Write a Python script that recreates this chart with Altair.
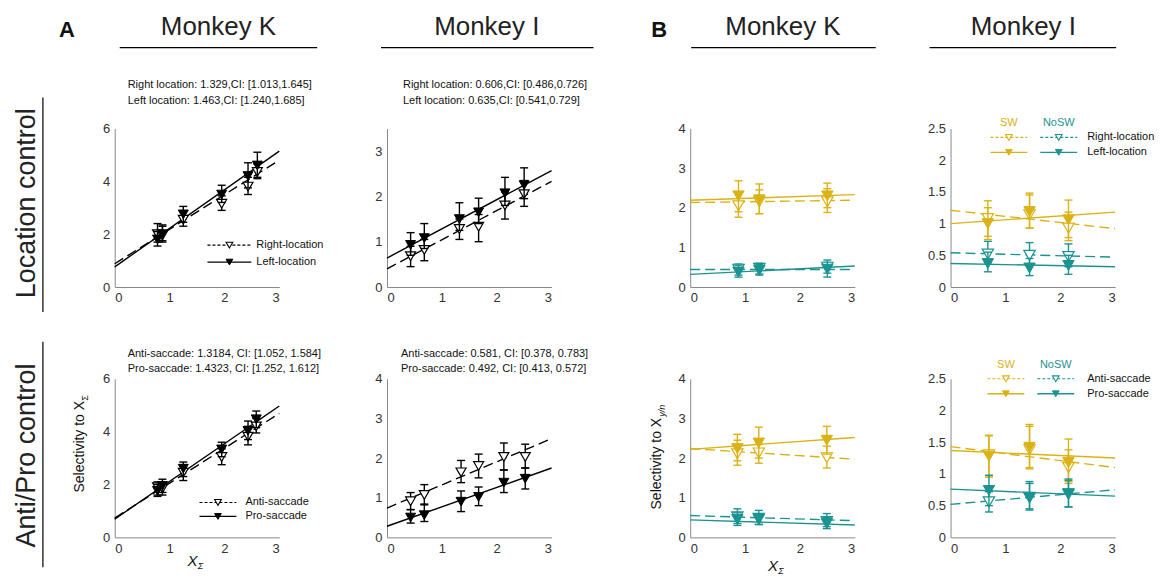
import altair as alt
import pandas as pd

FONT = "Liberation Sans"
BLK = "#000000"
YEL = "#DBB216"
TEAL = "#1B9391"

# ---------------- data ----------------
# A, Location control, Monkey K
akl_x = [0.78, 0.87, 1.25, 1.95, 2.43, 2.60]
akl_left = [1.80, 2.00, 2.75, 3.50, 4.20, 4.60]
akl_left_lo = [1.55, 1.75, 2.45, 3.20, 3.75, 4.15]
akl_left_hi = [2.10, 2.30, 3.05, 3.85, 4.70, 5.10]
akl_right = [2.00, 1.95, 2.55, 3.15, 3.80, 4.35]
akl_right_lo = [1.70, 1.70, 2.30, 2.90, 3.50, 4.10]
akl_right_hi = [2.40, 2.35, 2.85, 3.45, 4.15, 4.65]
akl_fit_left = [0.76, 5.14]
akl_fit_right = [0.88, 4.80]

# A, Location control, Monkey I
ail_x = [0.43, 0.68, 1.32, 1.67, 2.15, 2.50]
ail_left = [0.93, 1.08, 1.50, 1.65, 2.07, 2.25]
ail_left_lo = [0.70, 0.85, 1.25, 1.40, 1.80, 1.95]
ail_left_hi = [1.20, 1.40, 1.86, 1.96, 2.42, 2.63]
ail_right = [0.68, 0.82, 1.28, 1.33, 1.80, 2.05]
ail_right_lo = [0.45, 0.58, 1.05, 1.00, 1.50, 1.78]
ail_right_hi = [0.90, 1.05, 1.50, 1.60, 2.10, 2.35]
ail_fit_left = [0.64, 2.57]
ail_fit_right = [0.40, 2.33]

# A, Anti/Pro control, Monkey K
aka_x = [0.78, 0.87, 1.25, 1.95, 2.43, 2.58]
aka_pro = [1.76, 1.95, 2.60, 3.33, 4.03, 4.47]
aka_pro_lo = [1.55, 1.70, 2.30, 3.05, 3.70, 4.15]
aka_pro_hi = [2.00, 2.20, 2.85, 3.60, 4.40, 4.78]
aka_anti = [1.90, 1.85, 2.45, 3.04, 3.81, 4.20]
aka_anti_lo = [1.60, 1.60, 2.15, 2.75, 3.50, 3.95]
aka_anti_hi = [2.10, 2.10, 2.75, 3.35, 4.20, 4.50]
aka_fit_pro = [0.69, 4.97]
aka_fit_anti = [0.73, 4.69]

# A, Anti/Pro control, Monkey I
aia_x = [0.43, 0.68, 1.35, 1.67, 2.13, 2.52]
aia_anti = [0.91, 1.07, 1.64, 1.80, 2.03, 2.03]
aia_anti_lo = [0.70, 0.82, 1.38, 1.50, 1.70, 1.75]
aia_anti_hi = [1.13, 1.33, 1.94, 2.10, 2.38, 2.35]
aia_pro = [0.50, 0.56, 0.90, 1.02, 1.38, 1.48]
aia_pro_lo = [0.36, 0.40, 0.65, 0.80, 1.13, 1.22]
aia_pro_hi = [0.70, 0.84, 1.17, 1.27, 1.70, 1.75]
aia_fit_anti = [0.74, 2.49]
aia_fit_pro = [0.28, 1.75]

# B, Location control, Monkey K
bkl_x = [0.88, 1.26, 2.50]
bkl_sw_left = [2.30, 2.20, 2.30]
bkl_sw_left_lo = [1.90, 1.85, 2.00]
bkl_sw_left_hi = [2.68, 2.60, 2.62]
bkl_sw_right = [2.05, 2.15, 2.15]
bkl_sw_right_lo = [1.76, 1.85, 1.88]
bkl_sw_right_hi = [2.40, 2.45, 2.48]
bkl_no_left = [0.38, 0.42, 0.45]
bkl_no_left_lo = [0.25, 0.30, 0.25]
bkl_no_left_hi = [0.55, 0.57, 0.68]
bkl_no_right = [0.45, 0.47, 0.50]
bkl_no_right_lo = [0.30, 0.33, 0.35]
bkl_no_right_hi = [0.58, 0.60, 0.62]
bkl_fit_sw_left = [2.19, 2.33]
bkl_fit_sw_right = [2.13, 2.19]
bkl_fit_no_left = [0.32, 0.53]
bkl_fit_no_right = [0.44, 0.44]

# B, Location control, Monkey I
bil_x = [0.68, 1.44, 2.15]
bil_sw_left = [1.00, 1.19, 1.06]
bil_sw_left_lo = [0.75, 0.93, 0.78]
bil_sw_left_hi = [1.36, 1.48, 1.37]
bil_sw_right = [1.08, 1.14, 0.93]
bil_sw_right_lo = [0.80, 0.93, 0.73]
bil_sw_right_hi = [1.25, 1.45, 1.18]
bil_no_left = [0.37, 0.30, 0.34]
bil_no_left_lo = [0.24, 0.18, 0.20]
bil_no_left_hi = [0.55, 0.45, 0.50]
bil_no_right = [0.52, 0.50, 0.48]
bil_no_right_lo = [0.38, 0.35, 0.32]
bil_no_right_hi = [0.72, 0.70, 0.68]
bil_fit_sw_left = [1.00, 1.18]
bil_fit_sw_right = [1.21, 0.92]
bil_fit_no_left = [0.37, 0.32]
bil_fit_no_right = [0.54, 0.47]

# B, Anti/Pro control, Monkey K
bka_x = [0.86, 1.25, 2.49]
bka_sw_pro = [2.24, 2.38, 2.45]
bka_sw_pro_lo = [1.93, 2.00, 2.10]
bka_sw_pro_hi = [2.60, 2.78, 2.80]
bka_sw_anti = [2.11, 2.13, 2.01]
bka_sw_anti_lo = [1.82, 1.87, 1.75]
bka_sw_anti_hi = [2.45, 2.35, 2.30]
bka_no_pro = [0.45, 0.45, 0.35]
bka_no_pro_lo = [0.30, 0.32, 0.22]
bka_no_pro_hi = [0.62, 0.58, 0.50]
bka_no_anti = [0.52, 0.48, 0.40]
bka_no_anti_lo = [0.35, 0.33, 0.27]
bka_no_anti_hi = [0.72, 0.68, 0.60]
bka_fit_sw_pro = [2.22, 2.52]
bka_fit_sw_anti = [2.24, 1.97]
bka_fit_no_pro = [0.44, 0.31]
bka_fit_no_anti = [0.55, 0.42]

# B, Anti/Pro control, Monkey I
bia_x = [0.70, 1.44, 2.15]
bia_sw_pro = [1.28, 1.42, 1.18]
bia_sw_pro_lo = [0.95, 1.08, 0.85]
bia_sw_pro_hi = [1.61, 1.78, 1.55]
bia_sw_anti = [1.30, 1.38, 1.10]
bia_sw_anti_lo = [0.97, 1.10, 0.88]
bia_sw_anti_hi = [1.60, 1.75, 1.38]
bia_no_pro = [0.74, 0.62, 0.69]
bia_no_pro_lo = [0.50, 0.45, 0.48]
bia_no_pro_hi = [0.98, 0.85, 0.90]
bia_no_anti = [0.56, 0.63, 0.68]
bia_no_anti_lo = [0.40, 0.43, 0.48]
bia_no_anti_hi = [0.72, 0.88, 0.92]
bia_fit_sw_pro = [1.37, 1.25]
bia_fit_sw_anti = [1.43, 1.10]
bia_fit_no_pro = [0.76, 0.65]
bia_fit_no_anti = [0.52, 0.75]

fit_x = [0, 3]
x_ticks = [0, 1, 2, 3]

# ---------------- layout ----------------
PW, PH = 165, 159
COL_X = [115, 388, 692, 953]      # page x of each plot's left edge
ROW_Y = [8, 287]                  # page y of each panel's origin
COL_W = [273, 304, 261, 165]
ROW_H = [279, 251]
ROW_TOP = [120, 92]               # plot top inside the panel

DUMMY = pd.DataFrame({"d": [0]})


def T(s, ix, iy, o, size=11, color="#111111", align="left", angle=0,
      italic=False, bold=False, baseline="middle"):
    kw = dict(text=s, fontSize=size, color=color, align=align,
              baseline=baseline, font=FONT)
    if angle:
        kw["angle"] = angle
    if italic:
        kw["fontStyle"] = "italic"
    if bold:
        kw["fontWeight"] = "bold"
    return alt.Chart(DUMMY).mark_text(**kw).encode(
        x=alt.value(ix - o[0]), y=alt.value(iy - o[1]))


def R(x1, y1, x2, y2, o, color=BLK, w=1.0, dash=None, opacity=1.0):
    kw = dict(color=color, strokeWidth=w, opacity=opacity)
    if dash:
        kw["strokeDash"] = dash
    return alt.Chart(DUMMY).mark_rule(**kw).encode(
        x=alt.value(x1 - o[0]), x2=alt.value(x2 - o[0]),
        y=alt.value(y1 - o[1]), y2=alt.value(y2 - o[1]))


def P(ix, iy, o, color, filled, size=45):
    if filled:
        m = alt.Chart(DUMMY).mark_point(shape="triangle-down", size=size, filled=True,
                                        fill=color, stroke=color, strokeWidth=1, opacity=1)
    else:
        m = alt.Chart(DUMMY).mark_point(shape="triangle-down", size=size, filled=True,
                                        fill="white", stroke=color, strokeWidth=1.1, opacity=1)
    return m.encode(x=alt.value(ix - o[0]), y=alt.value(iy - o[1]))


def panel(r, c, xs, series, fits, ydom, yticks, extras, msize=100):
    o = (COL_X[c], ROW_Y[r])
    top = ROW_TOP[r]
    xsc = alt.Scale(domain=[0, 3], range=[0, PW], nice=False, zero=False)
    ysc = alt.Scale(domain=ydom, range=[top + PH, top], nice=False, zero=False)
    xax = alt.Axis(values=x_ticks, title=None, labelExpr="'' + datum.value")
    yax = alt.Axis(values=yticks, title=None, labelExpr="'' + datum.value")

    layers = []
    for (ys, color, dashed) in fits:
        df = pd.DataFrame({"x": fit_x, "y": ys})
        kw = dict(color=color, strokeWidth=1.4)
        if dashed:
            kw["strokeDash"] = [10, 5]
        layers.append(alt.Chart(df).mark_line(**kw).encode(
            x=alt.X("x:Q", scale=xsc, axis=xax),
            y=alt.Y("y:Q", scale=ysc, axis=yax)))
    for (ys, lo, hi, color, filled) in series:
        df = pd.DataFrame({"x": xs, "y": ys, "lo": lo, "hi": hi})
        X = alt.X("x:Q", scale=xsc, axis=xax)
        layers.append(alt.Chart(df).mark_rule(color=color, strokeWidth=1.4).encode(
            x=X, y=alt.Y("lo:Q", scale=ysc, axis=yax), y2="hi:Q"))
        for f in ("lo", "hi"):
            layers.append(alt.Chart(df).mark_point(
                shape="M-1,0L1,0", size=64, filled=False, stroke=color,
                strokeWidth=1.4, opacity=1).encode(
                x=X, y=alt.Y(f + ":Q", scale=ysc, axis=yax)))
        if filled:
            mk = alt.Chart(df).mark_point(shape="triangle-down", size=msize, filled=True,
                                          fill=color, stroke=color, strokeWidth=1, opacity=1)
        else:
            mk = alt.Chart(df).mark_point(shape="triangle-down", size=msize, filled=True,
                                          fill="white", stroke=color, strokeWidth=1.2, opacity=1)
        layers.append(mk.encode(x=X, y=alt.Y("y:Q", scale=ysc, axis=yax)))
    layers += [e(o) for e in extras]
    return alt.layer(*layers).properties(width=COL_W[c], height=ROW_H[r])


# ---------------- annotations ----------------
def global_annotations(o):
    out = [
        R(8, 30, 8, 31, o, opacity=0),  # left anchor
        T("A", 67, 29, o, size=22, bold=True, align="center", color="#111111"),
        T("Monkey K", 219, 26, o, size=26, align="center", color="#222222"),
        R(120, 47, 318, 47, o, w=1.2),
        T("Monkey I", 488, 26, o, size=26, align="center", color="#222222"),
        R(382, 47, 595, 47, o, w=1.2),
        T("B", 661, 29, o, size=22, bold=True, align="center", color="#111111"),
        T("Monkey K", 785, 26, o, size=26, align="center", color="#222222"),
        R(693, 47, 878, 47, o, w=1.2),
        T("Monkey I", 1026, 26, o, size=26, align="center", color="#222222"),
        R(932, 47, 1119, 47, o, w=1.2),
        T("Location control", 27, 203, o, size=27, align="center", angle=270, color="#222222"),
        R(43, 97, 43, 312, o, w=1.2),
        T("Anti/Pro control", 27, 456, o, size=27, align="center", angle=270, color="#222222"),
        R(43, 342, 43, 568, o, w=1.2),
    ]
    return out


def black_legend(o, x1, x2, xt, y1, y2, lab1, lab2):
    xm = (x1 + x2) / 2
    return [
        R(x1, y1, x2, y1, o, w=1.1, dash=[3, 2]), P(xm, y1, o, BLK, False),
        T(lab1, xt, y1, o, size=11),
        R(x1, y2, x2, y2, o, w=1.3), P(xm, y2, o, BLK, True),
        T(lab2, xt, y2, o, size=11),
    ]


def color_legend(o, ytitle, y1, y2, lab1, lab2, xs_sw, xs_no, xt):
    (a1, a2), (b1, b2) = xs_sw, xs_no
    return [
        T("SW", (a1 + a2) / 2, ytitle, o, size=11, align="center", color=YEL),
        T("NoSW", (b1 + b2) / 2, ytitle, o, size=11, align="center", color=TEAL),
        R(a1, y1, a2, y1, o, color=YEL, w=1.1, dash=[3, 2]), P((a1 + a2) / 2, y1, o, YEL, False),
        R(b1, y1, b2, y1, o, color=TEAL, w=1.1, dash=[3, 2]), P((b1 + b2) / 2, y1, o, TEAL, False),
        T(lab1, xt, y1, o, size=11),
        R(a1, y2, a2, y2, o, color=YEL, w=1.4), P((a1 + a2) / 2, y2, o, YEL, True),
        R(b1, y2, b2, y2, o, color=TEAL, w=1.4), P((b1 + b2) / 2, y2, o, TEAL, True),
        T(lab2, xt, y2, o, size=11),
    ]


# panel (0,0)
p00 = panel(0, 0, akl_x,
            [(akl_right, akl_right_lo, akl_right_hi, BLK, False),
             (akl_left, akl_left_lo, akl_left_hi, BLK, True)],
            [(akl_fit_right, BLK, True), (akl_fit_left, BLK, False)],
            [0, 6], [0, 2, 4, 6],
            [lambda o: alt.layer(*global_annotations(o)),
             lambda o: T("Right location: 1.329,CI: [1.013,1.645]", 128, 84, o),
             lambda o: T("Left location: 1.463,CI: [1.240,1.685]", 128, 101, o),
             lambda o: alt.layer(*black_legend(o, 208, 252, 257, 245, 262,
                                               "Right-location", "Left-location"))])

p01 = panel(0, 1, ail_x,
            [(ail_right, ail_right_lo, ail_right_hi, BLK, False),
             (ail_left, ail_left_lo, ail_left_hi, BLK, True)],
            [(ail_fit_right, BLK, True), (ail_fit_left, BLK, False)],
            [0, 3.5], [0, 1, 2, 3],
            [lambda o: T("Right location: 0.606,CI: [0.486,0.726]", 404, 84, o),
             lambda o: T("Left location: 0.635,CI: [0.541,0.729]", 404, 101, o)])

p02 = panel(0, 2, bkl_x,
            [(bkl_sw_right, bkl_sw_right_lo, bkl_sw_right_hi, YEL, False),
             (bkl_sw_left, bkl_sw_left_lo, bkl_sw_left_hi, YEL, True),
             (bkl_no_right, bkl_no_right_lo, bkl_no_right_hi, TEAL, False),
             (bkl_no_left, bkl_no_left_lo, bkl_no_left_hi, TEAL, True)],
            [(bkl_fit_sw_right, YEL, True), (bkl_fit_sw_left, YEL, False),
             (bkl_fit_no_right, TEAL, True), (bkl_fit_no_left, TEAL, False)],
            [0, 4], [0, 1, 2, 3, 4], [], msize=130)

p03 = panel(0, 3, bil_x,
            [(bil_sw_right, bil_sw_right_lo, bil_sw_right_hi, YEL, False),
             (bil_sw_left, bil_sw_left_lo, bil_sw_left_hi, YEL, True),
             (bil_no_right, bil_no_right_lo, bil_no_right_hi, TEAL, False),
             (bil_no_left, bil_no_left_lo, bil_no_left_hi, TEAL, True)],
            [(bil_fit_sw_right, YEL, True), (bil_fit_sw_left, YEL, False),
             (bil_fit_no_right, TEAL, True), (bil_fit_no_left, TEAL, False)],
            [0, 2.5], [0, 0.5, 1, 1.5, 2, 2.5],
            [lambda o: alt.layer(*color_legend(o, 123, 137, 152, "Right-location", "Left-location",
                                               (993, 1030), (1043, 1080), 1090))], msize=130)

p10 = panel(1, 0, aka_x,
            [(aka_anti, aka_anti_lo, aka_anti_hi, BLK, False),
             (aka_pro, aka_pro_lo, aka_pro_hi, BLK, True)],
            [(aka_fit_anti, BLK, True), (aka_fit_pro, BLK, False)],
            [0, 6], [0, 2, 4, 6],
            [lambda o: T("Anti-saccade: 1.3184, CI: [1.052, 1.584]", 128, 354, o),
             lambda o: T("Pro-saccade: 1.4323, CI: [1.252, 1.612]", 128, 369, o),
             lambda o: alt.layer(*black_legend(o, 200, 237, 246, 503, 517,
                                               "Anti-saccade", "Pro-saccade")),
             lambda o: T("Selectivity to X", 80, 493, o, size=14, angle=270, align="left"),
             lambda o: T("Σ", 85, 401, o, size=9, angle=270, align="left"),
             lambda o: T("X", 193, 562, o, size=15, align="center", italic=True),
             lambda o: T("Σ", 201, 567, o, size=9, align="center", italic=True)])

p11 = panel(1, 1, aia_x,
            [(aia_anti, aia_anti_lo, aia_anti_hi, BLK, False),
             (aia_pro, aia_pro_lo, aia_pro_hi, BLK, True)],
            [(aia_fit_anti, BLK, True), (aia_fit_pro, BLK, False)],
            [0, 4], [0, 1, 2, 3, 4],
            [lambda o: T("Anti-saccade: 0.581, CI: [0.378, 0.783]", 402, 354, o),
             lambda o: T("Pro-saccade: 0.492, CI: [0.413, 0.572]", 402, 369, o)])

p12 = panel(1, 2, bka_x,
            [(bka_sw_anti, bka_sw_anti_lo, bka_sw_anti_hi, YEL, False),
             (bka_sw_pro, bka_sw_pro_lo, bka_sw_pro_hi, YEL, True),
             (bka_no_anti, bka_no_anti_lo, bka_no_anti_hi, TEAL, False),
             (bka_no_pro, bka_no_pro_lo, bka_no_pro_hi, TEAL, True)],
            [(bka_fit_sw_anti, YEL, True), (bka_fit_sw_pro, YEL, False),
             (bka_fit_no_anti, TEAL, True), (bka_fit_no_pro, TEAL, False)],
            [0, 4], [0, 1, 2, 3, 4],
            [lambda o: T("Selectivity to X", 659, 510, o, size=14, angle=270, align="left"),
             lambda o: T("y/n", 664, 417, o, size=9, angle=270, align="left", italic=True),
             lambda o: T("X", 775, 567, o, size=15, align="center", italic=True),
             lambda o: T("Σ", 783, 572, o, size=9, align="center", italic=True)], msize=130)

p13 = panel(1, 3, bia_x,
            [(bia_sw_anti, bia_sw_anti_lo, bia_sw_anti_hi, YEL, False),
             (bia_sw_pro, bia_sw_pro_lo, bia_sw_pro_hi, YEL, True),
             (bia_no_anti, bia_no_anti_lo, bia_no_anti_hi, TEAL, False),
             (bia_no_pro, bia_no_pro_lo, bia_no_pro_hi, TEAL, True)],
            [(bia_fit_sw_anti, YEL, True), (bia_fit_sw_pro, YEL, False),
             (bia_fit_no_anti, TEAL, True), (bia_fit_no_pro, TEAL, False)],
            [0, 2.5], [0, 0.5, 1, 1.5, 2, 2.5],
            [lambda o: alt.layer(*color_legend(o, 365, 379, 394, "Anti-saccade", "Pro-saccade",
                                               (990, 1027), (1040, 1077), 1090))], msize=130)

chart = alt.concat(p00, p01, p02, p03, p10, p11, p12, p13,
                   columns=4, spacing=0, bounds="flush", align="each"
                   ).properties(padding=0
                   ).configure_view(stroke=None
                   ).configure_axis(grid=False, ticks=False, domainColor="#8a8a8a",
                                    domainWidth=1, labelColor="#333333", labelFont=FONT,
                                    labelFontSize=13, labelPadding=5)

chart.save("out.html", embed_options={"renderer": "svg", "actions": False})
